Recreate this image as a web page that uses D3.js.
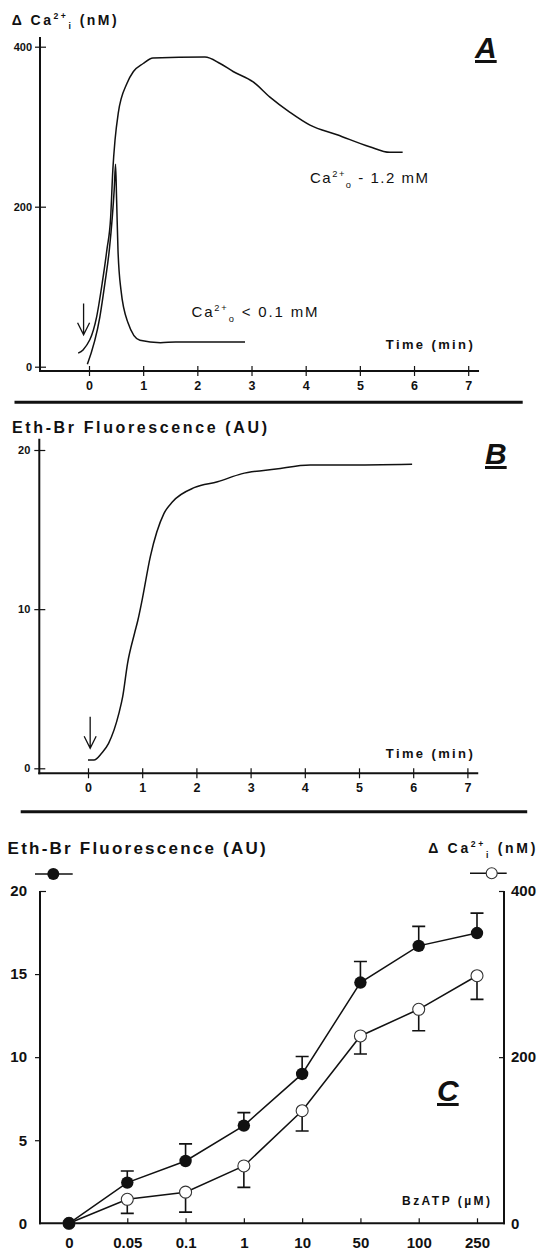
<!DOCTYPE html>
<html><head><meta charset="utf-8">
<script src="https://cdn.jsdelivr.net/npm/d3@7"></script>
<style>
body{margin:0;background:#fff}
svg{display:block}
text{font-family:"Liberation Sans",Arial,Helvetica,sans-serif;fill:#111}
</style>
</head><body>
<svg id="c" width="541" height="1253"></svg>
<script>
// ---------- Panel A data ----------
const timeTicks = [0,1,2,3,4,5,6,7];
const caTicksA = [0,200,400];
const caHighTime = [-0.20,-0.11,0.14,0.245,0.33,0.40,0.44,0.48,0.54,0.70,0.82,1.0,1.18,2.14,2.42,2.66,3.03,3.34,3.71,4.08,4.58,5.18,5.55,5.79];
const caHighVal  = [17,21,62,105,146,187,246,283,317,354,369,379,386,387,379,369,356,337,318,302,290,275,268,268];
const caLowTime  = [-0.03,0.20,0.295,0.375,0.43,0.465,0.49,0.51,0.535,0.59,0.72,0.94,1.32,1.6,2.88];
const caLowVal   = [3,62,105,146,187,221,253,208,146,96,55,33,30,31,31];
const arrowA = {t:-0.1, from:79, to:40};

// ---------- Panel B data ----------
const ethTicksB = [0,10,20];
const ethTime = [0,0.11,0.25,0.38,0.57,0.64,0.73,0.86,0.92,1.0,1.15,1.40,1.56,1.97,2.39,2.83,3.47,4.1,4.74,5.98];
const ethVal  = [0.52,0.52,0.94,1.57,3.45,4.5,6.6,8.5,9.3,10.6,13.3,16.0,16.75,17.65,18.0,18.5,18.8,19.05,19.05,19.1];
const arrowB = {t:0.04, from:3.24, to:1.26};

// ---------- Panel C data ----------
const bzCats  = ["0","0.05","0.1","1","10","50","100","250"];
const ethMean = [0,2.45,3.75,5.88,8.99,14.49,16.70,17.47];
const ethErr  = [0,0.70,1.03,0.78,1.05,1.27,1.17,1.20];
const caMean  = [0,28.9,37.5,69.0,135.5,225.5,257.6,298.0];
const caErr   = [0,16.9,24.0,25.7,24.4,21.7,25.8,28.4];
const ethTicksC = [0,5,10,15,20];
const caTicksC  = [0,200,400];

const svg = d3.select("#c");
const INK = "#111";
const fmt = d3.format("d");

function rich(x, y, parts, o){
  const t = svg.append("text").attr("x",x).attr("y",y)
    .attr("font-size",o.size).attr("font-weight",o.weight||"bold")
    .attr("text-anchor",o.anchor||"start");
  if(o.width) t.attr("textLength",o.width).attr("lengthAdjust","spacing");
  let shift=0;
  parts.forEach(p=>{
    const target = p.sup ? -0.42*o.size : p.sub ? 0.32*o.size : 0;
    const ts = t.append("tspan").text(p.t);
    if(target-shift!==0) ts.attr("dy",target-shift);
    if(p.sup||p.sub) ts.attr("font-size",o.size*0.62);
    shift=target;
  });
  return t;
}
function panelLabel(x,y,s){
  svg.append("text").attr("x",x).attr("y",y).attr("font-size",30)
    .attr("font-weight","bold").attr("font-style","italic")
    .attr("text-decoration","underline").text(s);
}
function arrow(x,y1,y2){
  svg.append("path")
    .attr("d",`M${x},${y1}L${x},${y2}M${x-6},${y2-12}L${x},${y2}L${x+6},${y2-12}`)
    .attr("fill","none").attr("stroke",INK).attr("stroke-width",1.3);
}
function styleAxis(g){
  g.select(".domain").remove();
  g.selectAll(".tick line").attr("stroke",INK).attr("stroke-width",1.2);
  g.selectAll(".tick text").attr("fill",INK).attr("font-weight","bold")
    .attr("font-family",'"Liberation Sans",Arial,sans-serif');
}
function hline(x1,x2,y,w){svg.append("line").attr("x1",x1).attr("x2",x2).attr("y1",y).attr("y2",y).attr("stroke",INK).attr("stroke-width",w);}
function vline(x,y1,y2,w){svg.append("line").attr("x1",x).attr("x2",x).attr("y1",y1).attr("y2",y2).attr("stroke",INK).attr("stroke-width",w);}

// ================= Panel A =================
const xA = d3.scaleLinear().domain([0,7]).range([89,468.2]);
const yA = d3.scaleLinear().domain([0,400]).range([366.7,46.7]);
const axXA = 371, axYA = 40;
vline(axYA, yA(412), axXA+1, 2);
hline(axYA-1, xA(7.2), axXA, 2);
const gxA = svg.append("g").attr("transform",`translate(0,${axXA})`)
  .call(d3.axisBottom(xA).tickValues(timeTicks).tickFormat(fmt).tickSize(5).tickPadding(5));
styleAxis(gxA); gxA.selectAll(".tick line").attr("y1",-5);
gxA.selectAll(".tick text").attr("font-size",12.5);
const gyA = svg.append("g").attr("transform",`translate(${axYA},0)`)
  .call(d3.axisLeft(yA).tickValues(caTicksA).tickFormat(fmt).tickSize(5).tickPadding(3));
styleAxis(gyA); gyA.selectAll(".tick line").attr("x1",6);
gyA.selectAll(".tick text").attr("font-size",11);

const lineA = d3.line().x(d=>xA(d[0])).y(d=>yA(d[1])).curve(d3.curveMonotoneX);
svg.append("path").attr("d",lineA(d3.zip(caHighTime,caHighVal)))
  .attr("fill","none").attr("stroke",INK).attr("stroke-width",1.5);
svg.append("path").attr("d",lineA(d3.zip(caLowTime,caLowVal)))
  .attr("fill","none").attr("stroke",INK).attr("stroke-width",1.5);
arrow(xA(arrowA.t), yA(arrowA.from), yA(arrowA.to));

rich(11.7,25,[{t:"Δ Ca"},{t:"2+",sup:true},{t:"i",sub:true},{t:" (nM)"}],{size:14,width:105});
rich(310,183.3,[{t:"Ca"},{t:"2+",sup:true},{t:"o",sub:true},{t:" - 1.2 mM"}],{size:15,weight:"normal",width:118});
rich(191.5,317.3,[{t:"Ca"},{t:"2+",sup:true},{t:"o",sub:true},{t:"  < 0.1 mM"}],{size:15,weight:"normal",width:126});
rich(385.8,349,[{t:"Time (min)"}],{size:13,width:87});
panelLabel(475,58,"A");

hline(14.5,522.7,402.3,3);

// ================= Panel B =================
const xB = d3.scaleLinear().domain([0,7]).range([88,467.4]);
const yB = d3.scaleLinear().domain([0,20]).range([768.3,450]);
const axXB = 773.3, axYB = 39.3;
vline(axYB, yB(20.7), axXB+1, 2);
hline(axYB-1, xB(7.2), axXB, 2);
const gxB = svg.append("g").attr("transform",`translate(0,${axXB})`)
  .call(d3.axisBottom(xB).tickValues(timeTicks).tickFormat(fmt).tickSize(5).tickPadding(5));
styleAxis(gxB); gxB.selectAll(".tick line").attr("y1",-5);
gxB.selectAll(".tick text").attr("font-size",12.5);
const gyB = svg.append("g").attr("transform",`translate(${axYB},0)`)
  .call(d3.axisLeft(yB).tickValues(ethTicksB).tickFormat(fmt).tickSize(5).tickPadding(4));
styleAxis(gyB); gyB.selectAll(".tick line").attr("x1",6);
gyB.selectAll(".tick text").attr("font-size",11);

const lineB = d3.line().x(d=>xB(d[0])).y(d=>yB(d[1])).curve(d3.curveMonotoneX);
svg.append("path").attr("d",lineB(d3.zip(ethTime,ethVal)))
  .attr("fill","none").attr("stroke",INK).attr("stroke-width",1.5);
arrow(xB(arrowB.t), yB(arrowB.from), yB(arrowB.to));

rich(12,433,[{t:"Eth-Br Fluorescence (AU)"}],{size:16,width:255});
rich(385.8,758,[{t:"Time (min)"}],{size:13,width:87});
panelLabel(485,464,"B");

hline(20.7,527.2,811.7,3);

// ================= Panel C =================
const xC = d3.scalePoint().domain(bzCats).range([69,477]);
const yL = d3.scaleLinear().domain([0,20]).range([1223.3,891]);
const yR = d3.scaleLinear().domain([0,400]).range([1223.3,891]);
const cL = 40, cR = 504, cB = 1223.3;
vline(cL, yL(20), cB+1, 2);
vline(cR, yR(400), cB+1, 2);
hline(cL-1, cR+1, cB, 2);

const gxC = svg.append("g").attr("transform",`translate(0,${cB})`)
  .call(d3.axisBottom(xC).tickSize(-5).tickPadding(14));
styleAxis(gxC); gxC.selectAll(".tick text").attr("font-size",15);
const gyL = svg.append("g").attr("transform",`translate(${cL},0)`)
  .call(d3.axisLeft(yL).tickValues(ethTicksC).tickFormat(fmt).tickSize(5).tickPadding(8));
styleAxis(gyL); gyL.selectAll(".tick text").attr("font-size",15);
gyL.selectAll(".tick line").filter(d=>d===20).attr("x2",6);
gyL.selectAll(".tick line").filter(d=>d===0).remove();
const gyR = svg.append("g").attr("transform",`translate(${cR},0)`)
  .call(d3.axisRight(yR).tickValues(caTicksC).tickFormat(fmt).tickSize(-5).tickPadding(7));
styleAxis(gyR); gyR.selectAll(".tick text").attr("font-size",15);
gyR.selectAll(".tick line").filter(d=>d===0).remove();

const ethPts = bzCats.map((c,i)=>({c,m:ethMean[i],e:ethErr[i]}));
const caPts  = bzCats.map((c,i)=>({c,m:caMean[i],e:caErr[i]}));
const lineL = d3.line().x(d=>xC(d.c)).y(d=>yL(d.m));
const lineR = d3.line().x(d=>xC(d.c)).y(d=>yR(d.m));
svg.append("path").attr("d",lineR(caPts)).attr("fill","none").attr("stroke",INK).attr("stroke-width",1.5);
svg.append("path").attr("d",lineL(ethPts)).attr("fill","none").attr("stroke",INK).attr("stroke-width",1.5);

// error bars
const cap = 6.5;
ethPts.filter(d=>d.e>0).forEach(d=>{
  const x=xC(d.c), y0=yL(d.m), y1=yL(d.m+d.e);
  svg.append("path").attr("d",`M${x},${y0}L${x},${y1}M${x-cap},${y1}L${x+cap},${y1}`)
    .attr("fill","none").attr("stroke",INK).attr("stroke-width",1.6);
});
caPts.filter(d=>d.e>0).forEach(d=>{
  const x=xC(d.c), y0=yR(d.m), y1=yR(d.m-d.e);
  svg.append("path").attr("d",`M${x},${y0}L${x},${y1}M${x-cap},${y1}L${x+cap},${y1}`)
    .attr("fill","none").attr("stroke",INK).attr("stroke-width",1.6);
});
// markers
svg.selectAll("circle.open").data(caPts).join("circle").attr("class","open")
  .attr("cx",d=>xC(d.c)).attr("cy",d=>yR(d.m)).attr("r",6)
  .attr("fill","#fff").attr("stroke","#333").attr("stroke-width",1.1);
svg.selectAll("circle.filled").data(ethPts).join("circle").attr("class","filled")
  .attr("cx",d=>xC(d.c)).attr("cy",d=>yL(d.m)).attr("r",6.2).attr("fill",INK);

// legend symbols
hline(35,72.7,874,1.5);
svg.append("circle").attr("cx",53.3).attr("cy",874).attr("r",6).attr("fill",INK);
hline(470,506.7,873.3,1.5);
svg.append("circle").attr("cx",491.7).attr("cy",873.3).attr("r",5.5).attr("fill","#fff").attr("stroke","#333").attr("stroke-width",1.1);

rich(7.6,854,[{t:"Eth-Br Fluorescence (AU)"}],{size:17,width:258});
rich(428.3,853.3,[{t:"Δ Ca"},{t:"2+",sup:true},{t:"i",sub:true},{t:" (nM)"}],{size:14,width:107});
rich(402,1205,[{t:"BzATP (µM)"}],{size:12,width:88});
panelLabel(437,1101,"C");
</script>
</body></html>
